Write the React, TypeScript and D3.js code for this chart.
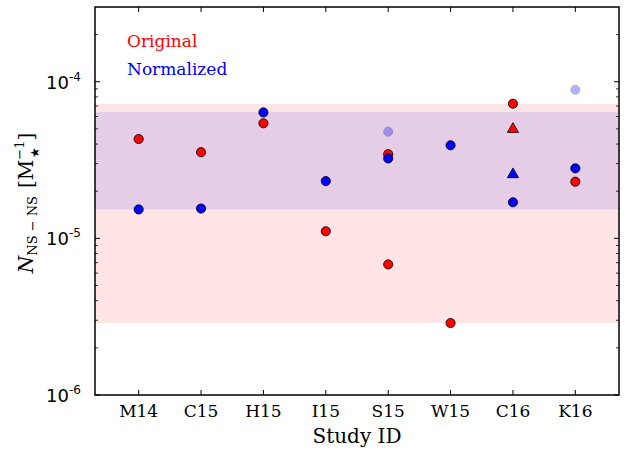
import React from "react";
import * as d3 from "d3";

const categories = ["M14", "C15", "H15", "I15", "S15", "W15", "C16", "K16"];

const origStudies = ["M14", "C15", "H15", "I15", "S15", "S15", "W15", "C16", "K16"];
const origValues = [4.31e-5, 3.55e-5, 5.43e-5, 1.11e-5, 3.45e-5, 6.82e-6, 2.88e-6, 7.24e-5, 2.3e-5];

const normStudies = ["M14", "C15", "H15", "I15", "S15", "W15", "C16", "K16"];
const normValues = [1.53e-5, 1.55e-5, 6.37e-5, 2.32e-5, 3.24e-5, 3.93e-5, 1.7e-5, 2.8e-5];

const fadedStudies = ["S15", "K16"];
const fadedValues = [4.8e-5, 8.89e-5];

const triStudies = ["C16"];
const triOrigValues = [4.98e-5];
const triNormValues = [2.56e-5];

const origBand = [2.88e-6, 7.2e-5];
const normBand = [1.53e-5, 6.4e-5];

const yTicks = [1e-6, 1e-5, 1e-4];
const yTickExp = ["-6", "-5", "-4"];

const W = 625;
const H = 450;
const L = 95, R = 619, T = 7, B = 395;

export default function App() {
  const x = d3.scaleLinear().domain([0.3, 8.7]).range([L, R]);
  const xc = (c: string) => x(categories.indexOf(c) + 1);
  const y = d3.scaleLog().domain([1e-6, 3e-4]).range([B, T]);

  const minor: number[] = [];
  for (let e = -6; e <= -4; e++) {
    for (let m = 2; m <= 9; m++) {
      const v = m * Math.pow(10, e);
      if (v <= 3e-4) minor.push(v);
    }
  }
  const tri = d3.symbol(d3.symbolTriangle, 55)() as string;
  const serif = "DejaVu Serif";
  const sans = "DejaVu Sans";
  const r = 4.6;

  return (
    <svg width={W} height={H} style={{ position: "absolute", left: 0, top: 0, background: "#fff" }}>
      <rect x={0} y={0} width={W} height={H} fill="#fff" />
      <rect x={L} width={R - L} y={y(origBand[1])} height={y(origBand[0]) - y(origBand[1])} fill="rgb(255,0,0)" fillOpacity={0.1} />
      <rect x={L} width={R - L} y={y(normBand[1])} height={y(normBand[0]) - y(normBand[1])} fill="rgb(0,0,255)" fillOpacity={0.1} />

      {yTicks.map((t, i) => (
        <g key={"yt" + i}>
          <line x1={L} x2={L + 5} y1={y(t)} y2={y(t)} stroke="#000" strokeWidth={1} />
          <line x1={R} x2={R - 5} y1={y(t)} y2={y(t)} stroke="#000" strokeWidth={1} />
          <text x={L - 26} y={y(t) + 7} fontFamily={sans} fontSize={18} textAnchor="end" fill="#000">10</text>
          <text x={L - 26} y={y(t) - 1} fontFamily={sans} fontSize={12} textAnchor="start" fill="#000">{yTickExp[i]}</text>
        </g>
      ))}
      {minor.map((t, i) => (
        <g key={"ym" + i}>
          <line x1={L} x2={L + 3} y1={y(t)} y2={y(t)} stroke="#000" strokeWidth={0.8} />
          <line x1={R} x2={R - 3} y1={y(t)} y2={y(t)} stroke="#000" strokeWidth={0.8} />
        </g>
      ))}
      {categories.map((c, i) => (
        <g key={"xt" + i}>
          <line x1={xc(c)} x2={xc(c)} y1={B} y2={B - 5} stroke="#000" strokeWidth={1} />
          <line x1={xc(c)} x2={xc(c)} y1={T} y2={T + 5} stroke="#000" strokeWidth={1} />
          <text x={xc(c)} y={B + 22} fontFamily={serif} fontSize={17} textAnchor="middle" fill="#000">{c}</text>
        </g>
      ))}

      {fadedStudies.map((s, i) => (
        <circle key={"f" + i} cx={xc(s)} cy={y(fadedValues[i])} r={r} fill="#0000ff" stroke="#000" strokeWidth={0.8} opacity={0.3} />
      ))}

      {origStudies.map((s, i) => (
        <circle key={"o" + i} cx={xc(s)} cy={y(origValues[i])} r={r} fill="#ff0000" stroke="#000" strokeWidth={0.8} />
      ))}
      {triStudies.map((s, i) => (
        <path key={"to" + i} d={tri} transform={`translate(${xc(s)},${y(triOrigValues[i])})`} fill="#ff0000" stroke="#000" strokeWidth={0.8} />
      ))}
      {normStudies.map((s, i) => (
        <circle key={"n" + i} cx={xc(s)} cy={y(normValues[i])} r={r} fill="#0000ff" stroke="#000" strokeWidth={0.8} />
      ))}
      {triStudies.map((s, i) => (
        <path key={"tn" + i} d={tri} transform={`translate(${xc(s)},${y(triNormValues[i])})`} fill="#0000ff" stroke="#000" strokeWidth={0.8} />
      ))}

      <rect x={L} y={T} width={R - L} height={B - T} fill="none" stroke="#000" strokeWidth={1.5} />

      <text x={127} y={47} fontFamily={serif} fontSize={17} fill="#ff0000">Original</text>
      <text x={127} y={75} fontFamily={serif} fontSize={17} fill="#0000ff">Normalized</text>

      <text x={(L + R) / 2} y={443} fontFamily={serif} fontSize={20} textAnchor="middle" fill="#000">Study ID</text>
      <g transform={`translate(33, ${(T + B) / 2 + 2}) rotate(-90)`}>
        <text x={0} y={0} fontFamily={serif} fontSize={20} textAnchor="middle" fill="#000">
          <tspan fontStyle="italic">N</tspan>
          <tspan fontSize={13} dy={4}>NS − NS</tspan>
          <tspan dy={-4} dx={8}>[M</tspan>
          <tspan fontSize={13} dy={-9}>−1</tspan>
          <tspan fontSize={12} dx={-17} dy={15}>★</tspan>
          <tspan dx={6} dy={-6}>]</tspan>
        </text>
      </g>
    </svg>
  );
}
